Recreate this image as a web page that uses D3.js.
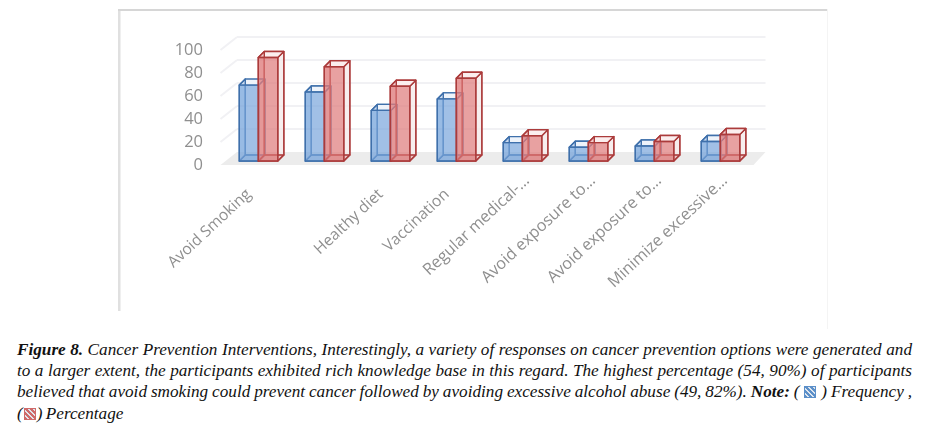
<!DOCTYPE html>
<html>
<head>
<meta charset="utf-8">
<script src="https://cdn.jsdelivr.net/npm/d3@7"></script>
<style>
html,body{margin:0;padding:0;background:#fff;width:930px;height:427px;overflow:hidden}
svg{position:absolute;left:0;top:0}
#chart{filter:blur(0.6px)}
.cap{position:absolute;left:17px;width:895px;font-family:"Liberation Serif",serif;font-style:italic;font-size:17.2px;line-height:21px;color:#111;white-space:nowrap;word-spacing:-1px}
.cap.j{text-align:justify;text-align-last:justify;white-space:normal}
.ic{display:inline-block;width:12px;height:12px;vertical-align:-1px;margin:0 1px}
</style>
</head>
<body>
<svg id="chart" width="930" height="427"></svg>
<div id="caption"></div>
<script>
const categories = ["Avoid Smoking","","Healthy diet","Vaccination","Regular medical-\u2026","Avoid exposure to\u2026","Avoid exposure to\u2026","Minimize excessive\u2026"];
const frequency = [66,60,44,54,16,12,13,17];
const percentage = [90,82,65,72,22,16,17,23];
const yTicks = [0,20,40,60,80,100];
const captionLines = [
  [["b","Figure 8. "],["i","Cancer Prevention Interventions, Interestingly, a variety of responses on cancer prevention options were generated and"]],
  [["i","to a larger extent, the participants exhibited rich knowledge base in this regard. The highest percentage (54, 90%) of participants"]],
  [["i","believed that avoid smoking could prevent cancer followed by avoiding excessive alcohol abuse (49, 82%). "],["b","Note: "],["i","( "],["blue",""],["i"," ) Frequency ,"]],
  [["i","("],["red",""],["i",") Percentage"]]
];

const svg = d3.select("#chart");
const y = d3.scaleLinear().domain([0,100]).range([161,46]);
const x = d3.scaleBand().domain(d3.range(categories.length)).range([239.3,239.3+66*8]);
const barW = 19.5, dx = 6, dy = 6;
const backX = 237, backR = 765.5, backDy = -9, sideX = -16.5, sideDy = 13;

svg.append("rect").attr("x",118).attr("y",9).attr("width",2.5).attr("height",302).attr("fill","#e0e0e0");
svg.append("rect").attr("x",118).attr("y",9).attr("width",710).attr("height",2).attr("fill","#d6d6d6");
svg.append("rect").attr("x",827).attr("y",9).attr("width",1).attr("height",320).attr("fill","#f4f4f4");

const fy = y(0)+backDy;
svg.append("polygon")
  .attr("points",[[backX,fy],[backR,fy],[backR-12,fy+sideDy],[backX+sideX,fy+sideDy]].join(" "))
  .attr("fill","#ececec");

yTicks.slice(1).forEach(t=>{
  const gy = y(t)+backDy;
  svg.append("line").attr("x1",backX).attr("x2",backR).attr("y1",gy).attr("y2",gy).attr("stroke","#f1f1f4").attr("stroke-width",2);
  svg.append("line").attr("x1",backX).attr("x2",backX+sideX).attr("y1",gy).attr("y2",gy+sideDy).attr("stroke","#f1f1f4").attr("stroke-width",2);
});

svg.selectAll("text.yl").data(yTicks).join("text").attr("class","yl")
  .attr("x",203).attr("y",d=>y(d)+9).attr("text-anchor","end")
  .attr("font-family","'Open Sans',sans-serif").attr("font-size",16.5).attr("fill","#8f8f8f")
  .text(d=>d);

function bar(g,x0,v,c){
  const t=y(v), b=y(0), r=x0+barW;
  const poly=(pts,fill,op,sw)=>g.append("polygon").attr("points",pts.join(" ")).attr("fill",fill).attr("fill-opacity",op)
     .attr("stroke",c.stroke).attr("stroke-width",sw||1.4).attr("stroke-linejoin","round");
  poly([[x0+dx,t-dy],[r+dx,t-dy],[r+dx,b-dy],[x0+dx,b-dy]],c.fill,0.1);
  poly([[r,t],[r+dx,t-dy],[r+dx,b-dy],[r,b]],c.side,0.75);
  poly([[x0,b],[r,b],[r+dx,b-dy],[x0+dx,b-dy]],c.fill,0.35);
  poly([[x0,t],[r,t],[r+dx,t-dy],[x0+dx,t-dy]],c.top,1);
  poly([[x0,t],[x0+dx,t-dy],[x0+dx,b-dy],[x0,b]],c.fill,0.3);
  poly([[x0,t],[r,t],[r,b],[x0,b]],c.fill,0.68);
}
const blue={stroke:"#3f70ab",fill:"#7ba6dc",side:"#ffffff",top:"#eef3fa"};
const red={stroke:"#ab3b3b",fill:"#df7b7b",side:"#f6ecec",top:"#fbeeee"};
categories.forEach((c,i)=>bar(svg.append("g"),x(i),frequency[i],blue));
categories.forEach((c,i)=>bar(svg.append("g"),x(i)+barW-0.5,percentage[i],red));

const cut = d => d.endsWith("\u2026");
svg.selectAll("text.xl").data(categories).join("text").attr("class","xl")
  .attr("transform",(d,i)=>`translate(${x(i)+(cut(d)?17:3)},${cut(d)?171:185}) rotate(-43)`)
  .attr("text-anchor","end")
  .attr("dy","0.9em")
  .attr("font-family","'Open Sans',sans-serif").attr("font-size",d=>cut(d)?16.2:15.6).attr("fill","#8f8f8f")
  .text(d=>d);

const cap=d3.select("#caption");
const tops=[339,360,381,403];
captionLines.forEach((ln,i)=>{
  const d=cap.append("div").attr("class","cap"+(i<3?" j":"")).style("top",tops[i]+"px");
  ln.forEach(([k,t])=>{
    if(k==="blue"||k==="red"){
      const col=k==="blue"?"#5b8fc9":"#cf6a6a";
      d.append("span").attr("class","ic").style("background",
        `repeating-linear-gradient(45deg,${col} 0 2px,#dfe6ee 2px 3.5px)`).style("border",`1px solid ${col}`).style("box-sizing","border-box");
    } else {
      const s=d.append("span").text(t);
      s.style("white-space","pre-wrap");
      if(k==="b") s.style("font-weight","bold");
    }
  });
});
</script>
</body>
</html>
